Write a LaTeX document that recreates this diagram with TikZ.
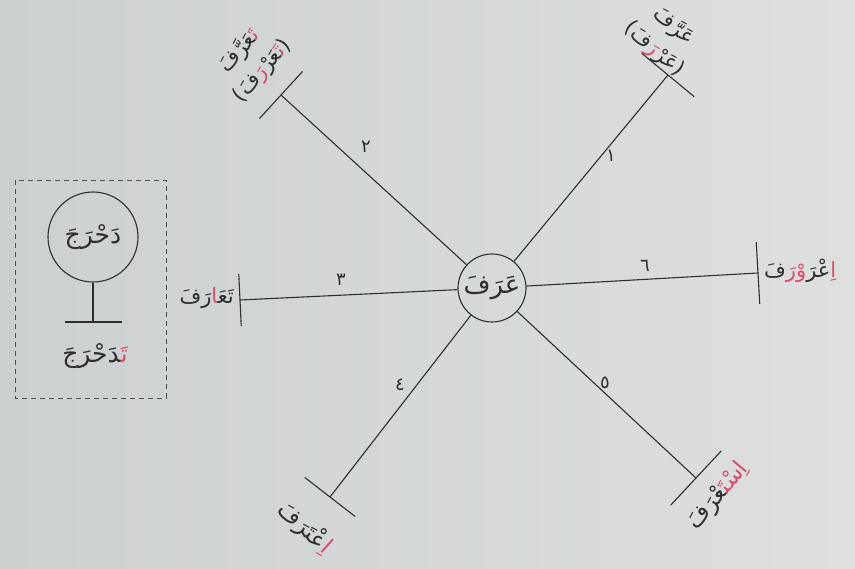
\documentclass[tikz,border=0pt]{standalone}
\usepackage{fontspec}
\usetikzlibrary{calc}
\newfontfamily\arabicfont[Script=Arabic]{DejaVu Sans}
\newcommand\zj{^^^^200d}
\definecolor{ink}{HTML}{2E2E2E}
\definecolor{redink}{HTML}{D2506A}
\definecolor{bgl}{HTML}{CDD0D1}
\definecolor{bgr}{HTML}{DEE0E0}
% Arabic runs are written in visual (left-to-right) order, one run per colour;
% the Arabic font mirrors isolated brackets, so the characters are swapped here
\newcommand\rd[1]{{\color{redink}#1}}
\newcommand\pl{\hbox{)}}
\newcommand\pr{\hbox{(}}
\begin{document}
\begin{tikzpicture}[x=1pt,y=-1pt,
  arm/.style={draw=ink, line width=1.1pt},
  lbl/.style={text=ink, font=\arabicfont\fontsize{21}{30}\selectfont, inner sep=1pt, align=center},
  num/.style={text=ink, font=\arabicfont\fontsize{18}{18}\selectfont, inner sep=1pt},
  hub/.style={circle, draw=ink, line width=1.1pt, minimum size=68pt, inner sep=0pt, text=ink, font=\arabicfont\fontsize{26}{26}\selectfont},
  boxcircle/.style={circle, draw=ink, line width=1.1pt, minimum size=90pt, inner sep=0pt, text=ink, font=\arabicfont\fontsize{25}{25}\selectfont},
  dashbox/.style={draw=ink!85, line width=0.9pt, dash pattern=on 5pt off 4pt}
]
\useasboundingbox (0,0) rectangle (855,569);
\shade[left color=bgl, right color=bgr] (0,0) rectangle (855,569);

% hub
\node[hub] (c) at (492,288) {عَرَفَ};

% arm end points
\coordinate (e1) at (668,75);
\coordinate (e2) at (281,95);
\coordinate (e3) at (240,300);
\coordinate (e4) at (330,497);
\coordinate (e5) at (696,478);
\coordinate (e6) at (758,273);

\foreach \i in {1,...,6} {\draw[arm] (c) -- (e\i);}

% end bars
\draw[arm] ($(e1)!34pt!90:(c)$) -- ($(e1)!34pt!-90:(c)$);
\draw[arm] ($(e2)!32pt!90:(c)$) -- ($(e2)!32pt!-90:(c)$);
\draw[arm] ($(e3)!26pt!90:(c)$) -- ($(e3)!26pt!-90:(c)$);
\draw[arm] ($(e4)!32pt!90:(c)$) -- ($(e4)!32pt!-90:(c)$);
\draw[arm] ($(e5)!37pt!90:(c)$) -- ($(e5)!37pt!-90:(c)$);
\draw[arm] ($(e6)!31pt!90:(c)$) -- ($(e6)!31pt!-90:(c)$);

% numbers
\node[num] (n1) at (611,156) {١};
\node[num] (n2) at (366,147) {٢};
\node[num] (n3) at (341,280) {٣};
\node[num] (n4) at (400,385) {٤};
\node[num] (n5) at (605,383) {٥};
\node[num] (n6) at (645,266) {٦};

% labels
\node[lbl, rotate=-41] (l1) at (664,38) {عَرَّفَ\\\pl فَ\rd{رَ}عَرْ\pr};
\node[lbl, rotate=49] (l2) at (251,61) {\zj عَرَّفَ\rd{تَ\zj}\\\pl فَ\rd{رَ}\zj عَرْ\rd{تَ\zj}\pr};
\node[lbl, anchor=east] (l3) at (235,298) {رَفَ\rd{\zj ا}تَعَ\zj};
\node[lbl, rotate=-42, font=\arabicfont\fontsize{23}{23}\selectfont] (l4) at (305,528) {عْتَرَفَ\rd{اِ}};
\node[lbl, rotate=50, font=\arabicfont\fontsize{23}{23}\selectfont] (l5) at (718,496) {\zj عْرَفَ\rd{اِسْتَ\zj}};
\node[lbl, anchor=west] (l6) at (763,271) {فَ\rd{وْرَ}عْرَ\rd{اِ}};

% legend box
\draw[dashbox] (15,180) rectangle (166,398);
\node[boxcircle] (d) at (93,237) {دَحْرَجَ};
\coordinate (s) at (93,322);
\draw[arm] (d) -- (s);
\coordinate (sl) at (65,322);
\coordinate (sr) at (122,322);
\draw[arm] (sl) -- (sr);
\node[lbl, font=\arabicfont\fontsize{25}{25}\selectfont] (t) at (95,356) {\zj دَحْرَجَ\rd{تَ\zj}};
\end{tikzpicture}
\end{document}
